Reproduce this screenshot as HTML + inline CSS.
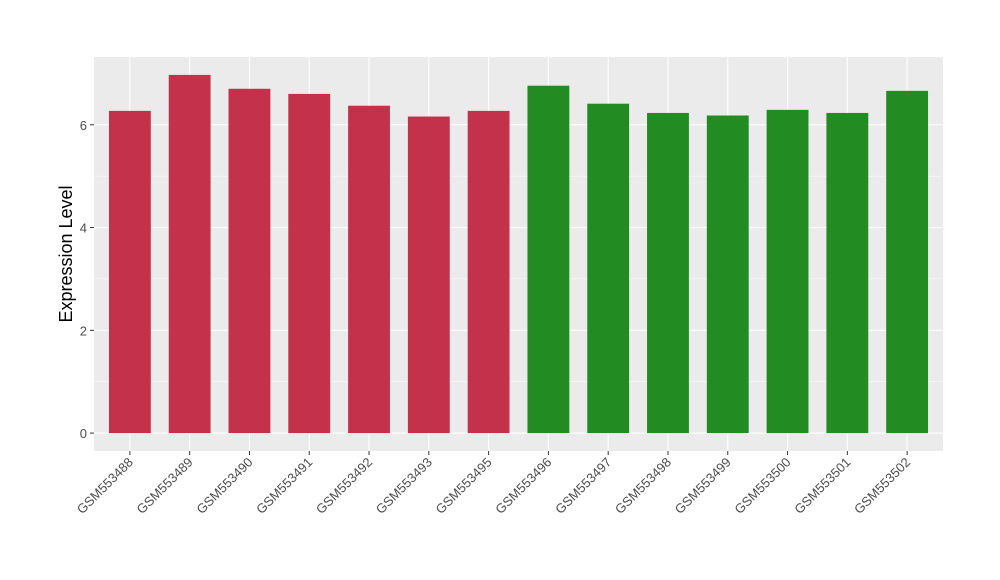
<!DOCTYPE html>
<html><head><meta charset="utf-8"><style>
body{margin:0;background:#fff;}
svg{display:block;font-family:"Liberation Sans",Arial,sans-serif;}
</style></head><body>
<svg id="chart" width="1000" height="580">
<rect x="94" y="57" width="849" height="394" fill="#ebebeb"/>
<g id="grid"></g><g id="bars"></g><g id="yaxis"></g><g id="xaxis"></g>
<text transform="translate(72,254) rotate(-90)" text-anchor="middle" font-size="18" fill="#000">Expression Level</text>
</svg>
<script>
const categories=["GSM553488","GSM553489","GSM553490","GSM553491","GSM553492","GSM553493","GSM553495","GSM553496","GSM553497","GSM553498","GSM553499","GSM553500","GSM553501","GSM553502"];
const values=[6.27,6.97,6.70,6.60,6.37,6.16,6.27,6.76,6.41,6.23,6.18,6.29,6.23,6.66];
const groups=["a","a","a","a","a","a","a","b","b","b","b","b","b","b"];
const yTicks=[0,2,4,6];
const colors={a:"#c3314a",b:"#228b22"};
const NS="http://www.w3.org/2000/svg";
const px0=94,px1=943,py0=57,py1=451;
const vmax=Math.max(...values),ymin=-0.05*vmax,ymax=1.05*vmax;
const y=v=>py1-(v-ymin)/(ymax-ymin)*(py1-py0);
const step=(px1-px0)/(categories.length-1+1.2);
const x=i=>px0+(0.6+i)*step;
function mk(tag,attrs,parent){const e=document.createElementNS(NS,tag);for(const k in attrs)e.setAttribute(k,attrs[k]);document.getElementById(parent).appendChild(e);return e;}
for(let i=0;i<yTicks.length;i++){
  const t=yTicks[i];
  const g=mk("line",{x1:px0,x2:px1,y1:y(t),y2:y(t),stroke:"#fff","stroke-width":1.1},"grid");
  
  
  if(i<yTicks.length-1){const m=mk("line",{x1:px0,x2:px1,y1:y(t+1),y2:y(t+1),stroke:"#fff","stroke-width":0.5},"grid");
  
  }
  const tk=mk("line",{x1:px0-4,x2:px0,y1:y(t),y2:y(t),stroke:"#333"},"yaxis");
  
  
  const tx=mk("text",{x:px0-7,y:y(t)+5,"text-anchor":"end","font-size":13,fill:"#4d4d4d"},"yaxis");
  tx.textContent=t;
  
  
}
categories.forEach((c,i)=>{
  const gl=mk("line",{x1:x(i),x2:x(i),y1:py0,y2:py1,stroke:"#fff","stroke-width":1.1},"grid");
  
  
  const bw=step*0.7;
  const b=mk("rect",{x:x(i)-bw/2,y:y(values[i]),width:bw,height:y(0)-y(values[i]),fill:colors[groups[i]]},"bars");
  
  
  const tk=mk("line",{x1:x(i),x2:x(i),y1:py1,y2:py1+4,stroke:"#333"},"xaxis");
  
  
  const tx=mk("text",{transform:`translate(${x(i)+4},${py1+12}) rotate(-45)`,"text-anchor":"end","font-size":13,fill:"#4d4d4d"},"xaxis");
  tx.textContent=c;
  
  
});
</script>
</body></html>
